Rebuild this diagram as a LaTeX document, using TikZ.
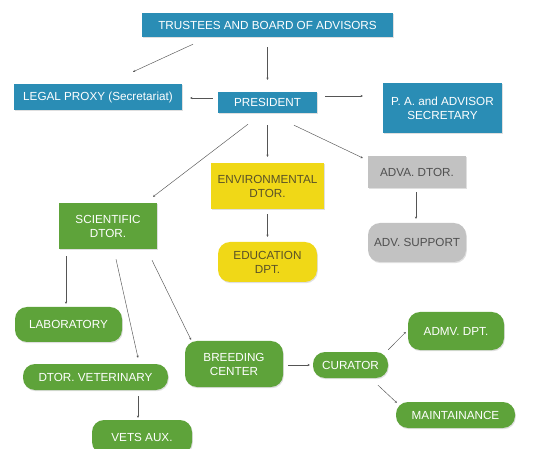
\documentclass[tikz,border=0pt]{standalone}
\usepackage{fontspec}
\setmainfont{Liberation Sans}
\usetikzlibrary{shadows,arrows.meta,calc}
\definecolor{cblue}{HTML}{2A8DB5}
\definecolor{cgreen}{HTML}{5EA33A}
\definecolor{cyellow}{HTML}{F0D817}
\definecolor{cgrey}{HTML}{C2C2C2}
\definecolor{ytext}{HTML}{5A5228}
\definecolor{gtext}{HTML}{505050}
\definecolor{arrowc}{HTML}{555555}
\begin{document}
\begin{tikzpicture}[x=1pt,y=-1pt,
  box/.style={rectangle,inner sep=0pt,align=center,
    font=\fontsize{11.7}{14}\selectfont,
    drop shadow={shadow xshift=0.8pt,shadow yshift=-1.2pt,opacity=0.25}},
  bluebox/.style={box,fill=cblue,text=white},
  greenbox/.style={box,fill=cgreen,text=white},
  greenpill/.style={box,fill=cgreen,text=white,rounded corners=12pt},
  yellowbox/.style={box,fill=cyellow,text=ytext},
  yellowpill/.style={box,fill=cyellow,text=ytext,rounded corners=12pt},
  greybox/.style={box,fill=cgrey,text=gtext},
  greypill/.style={box,fill=cgrey,text=gtext,rounded corners=12pt},
  arr/.style={draw=arrowc,line width=0.45pt,-{Stealth[length=2.2pt,width=2.2pt]}}]
\useasboundingbox (0,0) rectangle (552,449);
\fill[white] (0,0) rectangle (552,449);

\node[bluebox,minimum width=251pt,minimum height=24pt] (trustees) at (267.5,25) {TRUSTEES AND BOARD OF ADVISORS};
\node[bluebox,minimum width=168pt,minimum height=26pt] (legal) at (98,97) {LEGAL PROXY (Secretariat)};
\node[bluebox,minimum width=99pt,minimum height=21pt] (president) at (267.5,102.5) {PRESIDENT};
\node[bluebox,minimum width=119pt,minimum height=50pt] (pa) at (442.5,108) {P. A. and ADVISOR\\SECRETARY};

\node[greenbox,minimum width=98pt,minimum height=46pt] (scientific) at (108,226) {SCIENTIFIC\\DTOR.};
\node[yellowbox,minimum width=113pt,minimum height=46pt] (env) at (267.5,186) {ENVIRONMENTAL\\DTOR.};
\node[greybox,minimum width=98pt,minimum height=32pt] (adva) at (417,172) {ADVA. DTOR.};
\node[yellowpill,minimum width=99pt,minimum height=40pt] (edu) at (267.5,262) {EDUCATION\\DPT.};
\node[greypill,minimum width=98pt,minimum height=39pt] (support) at (417,242.5) {ADV. SUPPORT};

\node[greenpill,minimum width=107pt,minimum height=35pt] (lab) at (68.5,324.5) {LABORATORY};
\node[greenpill,minimum width=145pt,minimum height=26pt] (vet) at (95.5,377) {DTOR. VETERINARY};
\node[greenpill,minimum width=100pt,minimum height=34pt] (aux) at (142,437) {VETS AUX.};
\node[greenpill,minimum width=98pt,minimum height=46pt] (breeding) at (234,364) {BREEDING\\CENTER};
\node[greenpill,minimum width=75pt,minimum height=26pt] (curator) at (350.5,365) {CURATOR};
\node[greenpill,minimum width=96pt,minimum height=38pt] (admv) at (456,331) {ADMV. DPT.};
\node[greenpill,minimum width=119pt,minimum height=26pt] (maint) at (455.5,415) {MAINTAINANCE};

\draw[arr] ([xshift=-74.5pt,yshift=-7pt]trustees.south) -- ([xshift=35pt,yshift=12pt]legal.north);
\draw[arr] ([yshift=-10pt]trustees.south) -- ([yshift=12pt]president.north);
\draw[arr] ([xshift=-5pt,yshift=4.5pt]president.west) -- ([xshift=8pt,yshift=-1pt]legal.east);
\draw[arr] ([xshift=8pt,yshift=6.5pt]president.east) -- ([xshift=-20pt,yshift=12pt]pa.west);
\draw[arr] ([xshift=-19.5pt,yshift=-11pt]president.south) -- ([xshift=45pt,yshift=6pt]scientific.north);
\draw[arr] ([yshift=-12pt]president.south) -- ([yshift=6pt]env.north);
\draw[arr] ([xshift=26.5pt,yshift=-12pt]president.south) -- ([xshift=-5pt,yshift=14pt]adva.west);
\draw[arr] ([yshift=-5pt]env.south) -- ([yshift=5pt]edu.north);
\draw[arr] ([xshift=-1pt,yshift=-4pt]adva.south) -- ([xshift=-1pt,yshift=4pt]support.north);
\draw[arr] ([xshift=-42pt,yshift=-7pt]scientific.south) -- ([xshift=-2.5pt,yshift=3pt]lab.north);
\draw[arr] ([xshift=8pt,yshift=-10pt]scientific.south) -- ([xshift=42.5pt,yshift=6pt]vet.north);
\draw[arr] ([xshift=44pt,yshift=-11pt]scientific.south) -- ([xshift=-43pt,yshift=1pt]breeding.north);
\draw[arr] ([xshift=42.5pt,yshift=-6pt]vet.south) -- ([xshift=-4pt,yshift=2pt]aux.north);
\draw[arr] ([xshift=5pt,yshift=-1pt]breeding.east) -- ([xshift=-3pt]curator.west);
\draw[arr] ([yshift=2pt]curator.north east) -- ([xshift=-2pt,yshift=-1pt]admv.west);
\draw[arr] ([xshift=27.5pt,yshift=-7pt]curator.south) -- ([xshift=1pt,yshift=-1pt]maint.north west);
\end{tikzpicture}
\end{document}
